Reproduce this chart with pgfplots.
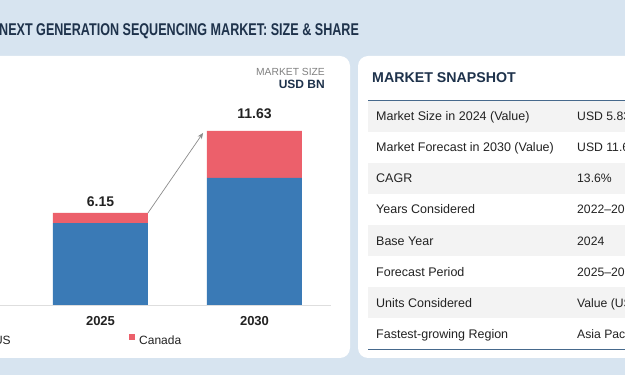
\documentclass[border=0pt]{standalone}
\usepackage{fontspec}
\setmainfont{Liberation Sans}
\newfontfamily\condfont[FakeStretch=0.74]{Liberation Sans}
\usepackage{pgfplots}
\pgfplotsset{compat=1.18}
\usetikzlibrary{arrows.meta}
\definecolor{bgblue}{RGB}{215,228,240}
\definecolor{usblue}{RGB}{58,122,182}
\definecolor{cared}{RGB}{236,96,107}
\definecolor{navy}{RGB}{30,50,75}
\definecolor{rowgray}{RGB}{243,243,243}
\definecolor{lineblue}{RGB}{70,105,140}
\definecolor{txt}{RGB}{34,34,34}
\begin{document}
\begin{tikzpicture}[x=1pt,y=1pt]
\useasboundingbox (0,0) rectangle (625,375);
\clip (0,0) rectangle (625,375);
\fill[bgblue] (0,0) rectangle (625,375);
\fill[white, rounded corners=10pt] (-20,17) rectangle (350,319);
\fill[white, rounded corners=10pt] (358,17) rectangle (660,319);
\node[anchor=base west, inner sep=0pt, text=navy, font=\condfont\bfseries\fontsize{17}{20}\selectfont] at (-1,339.4) {NEXT GENERATION SEQUENCING MARKET: SIZE \& SHARE};
% left panel unit labels
\node[anchor=base east, inner sep=0pt, text=black!50, font=\fontsize{10.3}{12}\selectfont] at (325,299.3) {MARKET SIZE};
\node[anchor=base east, inner sep=0pt, text=navy, font=\bfseries\fontsize{12}{14}\selectfont] at (325,286.7) {USD BN};
% right panel
\node[anchor=base west, inner sep=0pt, text=navy, font=\bfseries\fontsize{14.2}{17}\selectfont] at (372,292.9) {MARKET SNAPSHOT};
\foreach \i in {0,2,4,6} {
  \fill[rowgray] (368,{274.3-31.1*\i}) rectangle (625,{274.3-31.1*(\i+1)});
}
\draw[lineblue, line width=1.2pt] (368,274.3) -- (625,274.3);
\draw[lineblue, line width=1.8pt] (368,25.5) -- (625,25.5);
\foreach \i/\lab/\val in {0/Market Size in 2024 (Value)/USD 5.83 BN,
  1/Market Forecast in 2030 (Value)/USD 11.63 BN,
  2/CAGR/13.6\%,
  3/Years Considered/2022--2030,
  4/Base Year/2024,
  5/Forecast Period/2025--2030,
  6/Units Considered/Value (USD Billion),
  7/Fastest-growing Region/Asia Pacific} {
  \node[anchor=base west, inner sep=0pt, text=txt, font=\fontsize{12.5}{15}\selectfont] at (376,{274.3-31.1*(\i+0.5)-4.4}) {\lab};
  \node[anchor=base west, inner sep=0pt, text=txt, font=\fontsize{12.2}{15}\selectfont] at (577,{274.3-31.1*(\i+0.5)-4.4}) {\val};
}
\begin{axis}[
  at={(0pt,70pt)}, anchor=south west,
  scale only axis, width=331pt, height=194.5pt,
  xmin=0.3474, xmax=2.4968, ymin=0, ymax=13,
  clip=false,
  ybar stacked, bar width=95pt,
  hide y axis,
  axis x line*=bottom,
  axis line style={draw=black!13, line width=0.8pt},
  xtick={1,2}, xticklabels={2025,2030},
  xtick style={draw=none},
  xticklabel style={anchor=north, inner sep=0pt, yshift=-11pt, text=txt, font=\bfseries\fontsize{13}{15}\selectfont},
  legend columns=2,
  legend style={at={(-0.0498,-0.18)}, anchor=west, draw=none, fill=none, inner sep=0pt, outer sep=0pt,
    font=\fontsize{12}{14}\selectfont, text=txt, nodes={inner sep=0pt},
    /tikz/every even column/.append style={column sep=118pt},
    /tikz/every odd column/.append style={column sep=4pt}},
  legend image code/.code={\fill[#1] (0pt,1.3pt) rectangle (6.5pt,7.8pt);},
]
\addplot[fill=usblue, draw=none] coordinates {(1,5.48) (2,8.49)};
\addlegendentry{US}
\addplot[fill=cared, draw=none] coordinates {(1,0.67) (2,3.14)};
\addlegendentry{Canada}
\node[anchor=south, inner sep=0pt, yshift=6.3pt, text=txt, font=\bfseries\fontsize{14}{16}\selectfont] at (axis cs:1,6.15) {6.15};
\node[anchor=south, inner sep=0pt, yshift=12pt, text=txt, font=\bfseries\fontsize{14}{16}\selectfont] at (axis cs:2,11.63) {11.63};
\draw[-{Stealth[length=6pt,width=5pt]}, draw=black!45, line width=0.7pt] (axis cs:1.308,6.15) -- (axis cs:1.666,11.5);
\end{axis}
\end{tikzpicture}
\end{document}
